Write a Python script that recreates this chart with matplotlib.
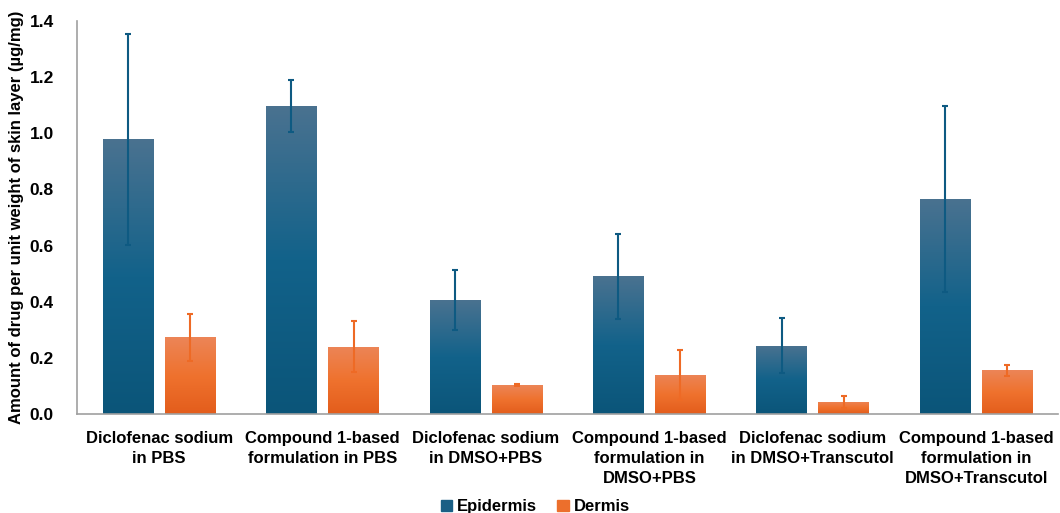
import numpy as np
import matplotlib.pyplot as plt
from matplotlib.colors import LinearSegmentedColormap
from matplotlib.patches import Patch

plt.rcParams['font.family'] = ['Liberation Sans', 'DejaVu Sans']
plt.rcParams['font.weight'] = 'bold'

# data
groups = ['Diclofenac sodium\nin PBS',
          'Compound 1-based\nformulation in PBS',
          'Diclofenac sodium\nin DMSO+PBS',
          'Compound 1-based\nformulation in\nDMSO+PBS',
          'Diclofenac sodium\nin DMSO+Transcutol',
          'Compound 1-based\nformulation in\nDMSO+Transcutol']
epidermis = [0.978, 1.098, 0.406, 0.490, 0.244, 0.766]
epidermis_err = [0.375, 0.092, 0.106, 0.150, 0.098, 0.330]
dermis = [0.273, 0.240, 0.103, 0.140, 0.043, 0.155]
dermis_err = [0.084, 0.090, 0.004, 0.089, 0.022, 0.021]

fig = plt.figure(figsize=(10.6, 5.13), dpi=100)
ax = fig.add_axes([0.073, 0.193, 0.925, 0.766])

x = np.arange(len(groups))
w = 0.31
off = 0.19

epi_cmap = LinearSegmentedColormap.from_list('epi', ['#0b5579', '#12628a', '#4a7290'])
der_cmap = LinearSegmentedColormap.from_list('der', ['#e35d1c', '#ef722e', '#ec8557'])

b1 = ax.bar(x - off, epidermis, w, color='#1a5f85', label='Epidermis', zorder=2)
b2 = ax.bar(x + off, dermis, w, color='#ec6f2c', label='Dermis', zorder=2)

# gradient fill inside bars
grad = np.linspace(0, 1, 256).reshape(-1, 1)
for bars, cmap in [(b1, epi_cmap), (b2, der_cmap)]:
    for r in bars:
        x0, y0 = r.get_x(), r.get_y()
        x1, y1 = x0 + r.get_width(), y0 + r.get_height()
        r.set_facecolor('none')
        im = ax.imshow(grad, cmap=cmap, aspect='auto', origin='lower',
                       extent=[x0, x1, y0, y1], zorder=2)
        im.set_clip_path(r)
        r.set_edgecolor((1, 1, 1, 0.6))
        r.set_linewidth(0.6)

ax.errorbar(x - off, epidermis, yerr=epidermis_err, fmt='none', ecolor='#0e5a82',
            elinewidth=1.5, capsize=2.5, capthick=1.5, zorder=3)
ax.errorbar(x + off, dermis, yerr=dermis_err, fmt='none', ecolor='#ee6a25',
            elinewidth=1.5, capsize=2.5, capthick=1.5, zorder=3)

ax.set_xlim(-0.5, len(groups) - 0.5)
ax.set_ylim(0, 1.4)
ax.set_yticks(np.arange(0, 1.41, 0.2))
ax.set_yticklabels([f'{v:.1f}' for v in np.arange(0, 1.41, 0.2)], fontsize=12.5, fontweight='bold')
ax.set_xticks(x)
ax.set_xticklabels(groups, fontsize=12, fontweight='bold', linespacing=1.45)
ax.tick_params(axis='y', length=0, pad=17)
ax.tick_params(axis='x', length=0, pad=12)
ax.set_ylabel('Amount of drug per unit weight of skin layer (µg/mg)', fontsize=12,
              fontweight='bold', labelpad=4)

for s in ['top', 'right']:
    ax.spines[s].set_visible(False)
for s in ['left', 'bottom']:
    ax.spines[s].set_color('#a0a0a0')
    ax.spines[s].set_linewidth(1.2)

handles = [Patch(color='#1a5f85'), Patch(color='#ec6f2c')]
fig.legend(handles, ['Epidermis', 'Dermis'], loc='center', bbox_to_anchor=(0.505, 0.012),
           ncol=2, frameon=False, fontsize=12, handlelength=0.7, handleheight=0.7,
           handletextpad=0.3, columnspacing=1.2)

fig.savefig('out.png', dpi=100)
